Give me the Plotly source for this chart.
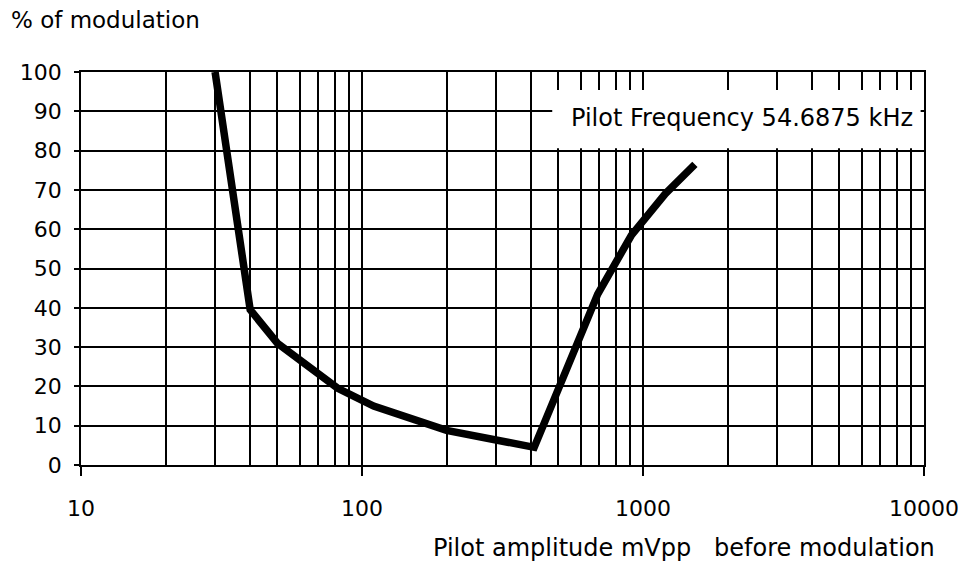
import plotly.graph_objects as go

# data
amplitude_mvpp = [30, 40, 50, 65, 82, 110, 200, 330, 410, 690, 910, 1200, 1530]
modulation_pct = [100, 39.5, 31, 25, 19.5, 15, 8.8, 5.8, 4.5, 43.5, 58.5, 69, 76.5]

x_major = [10, 100, 1000, 10000]
x_major_text = ["10", "100", "1000", "10000"]
x_minor = [m * d for d in (10, 100, 1000) for m in range(2, 10)]
y_ticks = list(range(0, 101, 10))

FONT = "DejaVu Sans, Liberation Sans, Arial, sans-serif"

fig = go.Figure()
fig.add_trace(go.Scatter(
    x=amplitude_mvpp, y=modulation_pct, mode="lines",
    line=dict(color="black", width=7.5), showlegend=False, hoverinfo="skip",
))

fig.update_layout(
    width=963, height=555,
    margin=dict(l=70, r=43, t=64, b=98),
    paper_bgcolor="white", plot_bgcolor="white",
    font=dict(family=FONT, size=22, color="black"),
    xaxis=dict(
        type="log", range=[1, 4],
        tickvals=x_major, ticktext=x_major_text,
        ticks="outside", ticklen=9, tickwidth=1.5, tickcolor="black",
        ticklabelstandoff=14,
        showgrid=True, gridcolor="black", gridwidth=1.5,
        showline=True, linecolor="black", linewidth=1.5, mirror=True,
        minor=dict(tickvals=x_minor, showgrid=True, gridcolor="black",
                   gridwidth=1.5, ticks=""),
        tickfont=dict(size=22),
        zeroline=False,
    ),
    yaxis=dict(
        range=[0, 100], tickvals=y_ticks,
        ticks="outside", ticklen=5, tickwidth=1.5, tickcolor="black",
        ticklabelstandoff=8,
        showgrid=True, gridcolor="black", gridwidth=1.5,
        showline=True, linecolor="black", linewidth=1.5, mirror=True,
        tickfont=dict(size=22),
        zeroline=False,
    ),
)

# white label box over the grid
fig.add_shape(type="rect", xref="paper", yref="paper",
              x0=0.559, x1=0.996, y0=0.806, y1=0.954,
              fillcolor="white", line=dict(width=0), layer="above")
fig.add_annotation(xref="paper", yref="paper", x=0.784, y=0.882,
                   text="Pilot Frequency 54.6875 kHz", showarrow=False,
                   font=dict(size=24), xanchor="center", yanchor="middle")

fig.add_annotation(xref="paper", yref="paper", x=-0.085, y=1.132,
                   text="% of modulation", showarrow=False,
                   font=dict(size=23), xanchor="left", yanchor="middle")
fig.add_annotation(xref="paper", yref="paper", x=1.016, y=-0.211,
                   text="Pilot amplitude mVpp\u00a0\u00a0\u00a0before modulation",
                   showarrow=False, font=dict(size=24),
                   xanchor="right", yanchor="middle")

fig.write_html("out.html")
